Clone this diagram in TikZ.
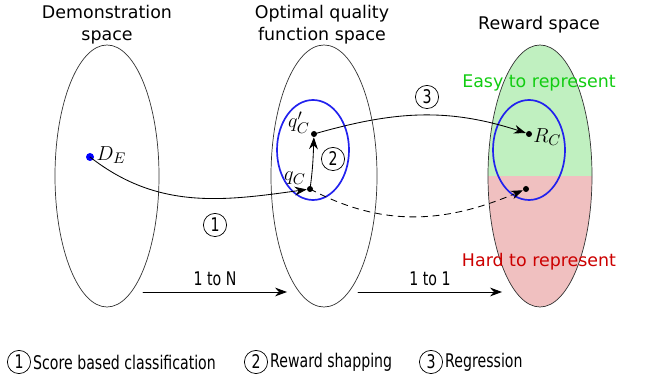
\documentclass[tikz,border=0pt]{standalone}
\usepackage{fontspec}
\setmainfont{DejaVu Sans}
\newfontfamily\narrowfont[FakeStretch=0.75]{DejaVu Sans}
\usetikzlibrary{arrows.meta,positioning}

\definecolor{easyfill}{HTML}{C0F0C0}
\definecolor{hardfill}{HTML}{F0C0C0}
\definecolor{easytext}{HTML}{11CC11}
\definecolor{hardtext}{HTML}{CC0000}
\definecolor{subset}{HTML}{2222EE}

\begin{document}
\begin{tikzpicture}[
  x={(0.25mm,0mm)}, y={(0mm,0.25mm)},
  line join=round, line cap=round,
  font=\fontsize{12.4}{15.6}\selectfont,
  space/.style={line width=0.5pt, draw=black!80},
  subsetring/.style={line width=1.2pt, draw=subset},
  pt/.style={circle, fill=black, inner sep=0pt, minimum size=1.5mm},
  mathlabel/.style={inner sep=0pt, font=\fontsize{15}{18}\selectfont},
  link/.style={line width=0.6pt, -{Stealth[length=3mm, width=2.2mm, inset=1mm]}},
  numc/.style={circle, draw, line width=0.5pt, inner sep=0pt, minimum size=5.8mm,
               font=\fontsize{13.4}{15}\selectfont\narrowfont},
  legend/.style={inner sep=0pt, font=\fontsize{13.4}{15}\selectfont\narrowfont},
  title/.style={align=center, inner sep=0pt},
]
\useasboundingbox (0,0) rectangle (656,381);

% ── the three spaces ──────────────────────────────────────────────────────
\draw[space] (107,205) ellipse [x radius=52, y radius=131];
\draw[space] (324,205) ellipse [x radius=53, y radius=131];

\begin{scope}
  \clip (540,205) ellipse [x radius=52, y radius=131];
  \fill[easyfill] (480,205) rectangle (600,340);
  \fill[hardfill] (480,70) rectangle (600,205);
\end{scope}
\draw[space] (540,205) ellipse [x radius=52, y radius=131];

\node[title] (tdemo) at (107,356) {Demonstration\\space};
\node[title] (tqual) at (322,356) {Optimal quality\\function space};
\node[title] (trew)  at (539,356) {Reward space};

\node[inner sep=0pt, text=easytext] (easy) at (539,298) {Easy to represent};
\node[inner sep=0pt, text=hardtext] (hard) at (539,119) {Hard to represent};

% ── subsets in quality and reward space ───────────────────────────────────
\draw[subsetring] (313,231) ellipse [x radius=36, y radius=50];
\draw[subsetring] (529,231) ellipse [x radius=36, y radius=50];

% ── points ────────────────────────────────────────────────────────────────
\node[pt, fill=blue, minimum size=2mm] (de) at (90,224) {};
\node[pt] (qcp) at (314,247) {};
\node[pt] (qc)  at (310,192) {};
\node[pt] (rc)  at (529,247) {};
\node[pt] (rbad) at (526,192) {};

\node[mathlabel, right=0.5mm of de, yshift=0.5mm] (lde) {$D_E$};
\node[mathlabel, above left=-0.5mm and 0.4mm of qcp] (lqcp) {$q'_C$};
\node[mathlabel, above left=0.4mm and 0.4mm of qc] (lqc) {$q_C$};
\node[mathlabel, right=0.2mm of rc, yshift=-0.8mm] (lrc) {$R_C$};

% ── mappings ──────────────────────────────────────────────────────────────
\draw[link] (de.center) to[out=-38, in=188] (qc);
\draw[link] (qc.center) to[out=82, in=-92] (qcp);
\draw[link] (qcp.center) to[out=16, in=162] (rc);
\draw[link, dash pattern=on 1.6mm off 1.3mm] (qc.center) to[out=-28, in=203] (rbad);

\node[numc] (n1) at (215,156) {1};
\node[numc] (n2) at (333,222) {2};
\node[numc] (n3) at (427,284) {3};

% ── cardinality arrows ────────────────────────────────────────────────────
\coordinate (m1s) at (143,89);
\coordinate (m1e) at (287,89);
\coordinate (m2s) at (358,89);
\coordinate (m2e) at (502,89);
\draw[link] (m1s) -- node[above=1.5mm, legend] {1 to N} (m1e);
\draw[link] (m2s) -- node[above=1.5mm, legend] {1 to 1} (m2e);

% ── legend ────────────────────────────────────────────────────────────────
\node[numc] (k1) at (19,19) {1};
\node[legend, right=0.5mm of k1] (k1t) {Score based classification};
\node[numc] (k2) at (256,19) {2};
\node[legend, right=0.5mm of k2] (k2t) {Reward shapping};
\node[numc] (k3) at (431,19) {3};
\node[legend, right=0.5mm of k3] (k3t) {Regression};

\end{tikzpicture}
\end{document}
